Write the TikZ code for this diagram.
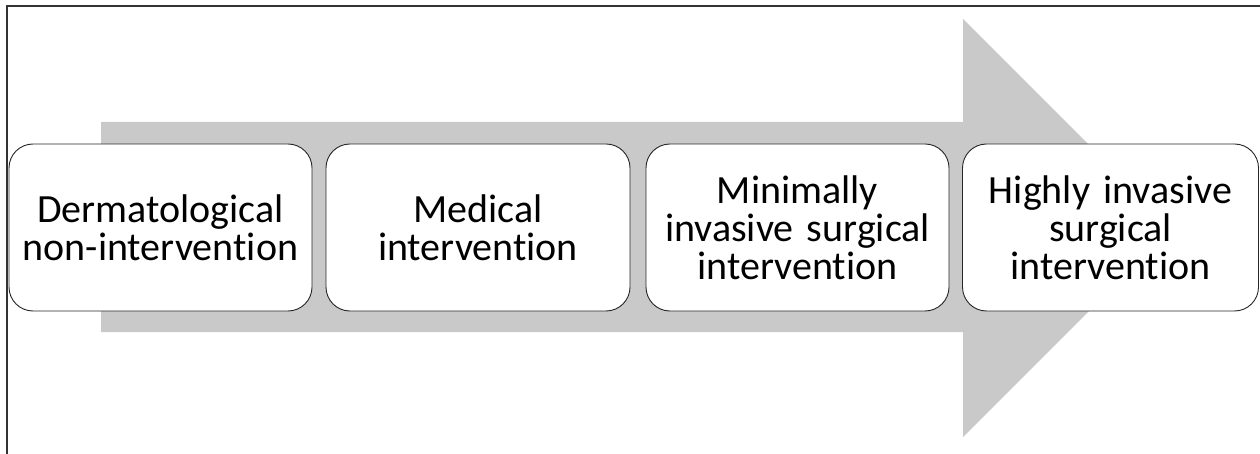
\documentclass[tikz,border=0pt]{standalone}
\usepackage{fontspec}
\setmainfont{Carlito}[Ligatures=NoCommon]
\begin{document}
\begin{tikzpicture}[x=1pt,y=-1pt,
  stage/.style={draw=black!85, line width=0.9pt, fill=white, rounded corners=24pt,
    minimum height=167pt, inner sep=0pt, align=center, text width=296pt,
    font=\fontsize{40}{38}\selectfont},
  frameline/.style={draw=black!80, line width=1.4pt},
  arrowfill/.style={fill=black!21, draw=none}]
\useasboundingbox (0,0) rectangle (1260,454);
% frame lines
\coordinate (ftl) at (7,6);
\coordinate (ftr) at (1262,6);
\coordinate (fbl) at (7,456);
\draw[frameline] (ftr) -- (ftl) -- (fbl);
% big arrow
\fill[arrowfill] (101,122) -- (963,122) -- (963,19) -- (1172,228) -- (963,437) -- (963,332) -- (101,332) -- cycle;
% stages
\node[stage, minimum width=303pt] (s1) at (160.5,227.5) {Dermatological\\non-intervention};
\node[stage, minimum width=304pt] (s2) at (478,227.5) {Medical\\intervention};
\node[stage, minimum width=303pt] (s3) at (797.5,227.5) {Minimally\\invasive surgical\\intervention};
\node[stage, minimum width=295pt] (s4) at (1110.5,227.5) {Highly invasive\\surgical\\intervention};
\end{tikzpicture}
\end{document}
